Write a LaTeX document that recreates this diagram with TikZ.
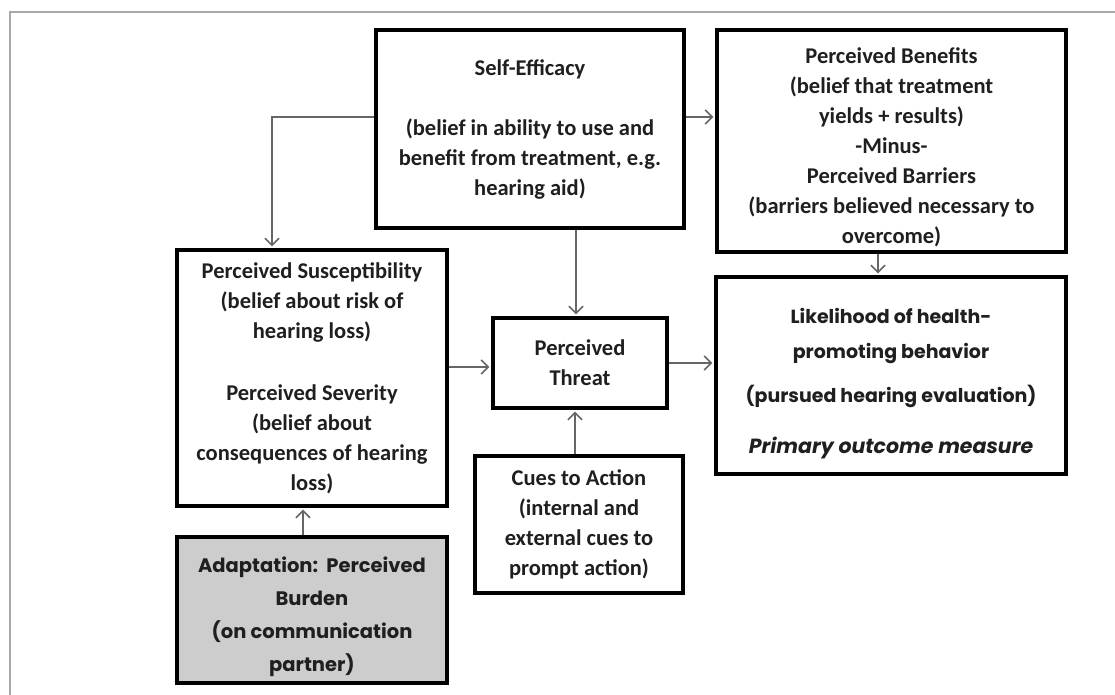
\documentclass[tikz,border=0pt]{standalone}
\usepackage{fontspec}
\setmainfont{Carlito}
\newfontfamily\geofont{Poppins}
\usetikzlibrary{arrows.meta}
\definecolor{ink}{HTML}{1F1F1F}
\definecolor{linkgray}{HTML}{666666}
\definecolor{framegray}{HTML}{A8A8A8}
\definecolor{burden}{HTML}{CDCDCD}
\tikzset{
  box/.style={draw=black, line width=3.8pt, fill=white, inner sep=0pt,
    align=center, text=ink, font=\bfseries\fontsize{22.5}{30}\selectfont},
  geobox/.style={box, font=\geofont\bfseries\fontsize{19}{35}\selectfont},
  link/.style={draw=linkgray, line width=2pt,
    -{Straight Barb[length=7pt,width=14pt,line width=1.6pt]}, shorten >=1.8pt},
  frame/.style={draw=framegray, line width=1.6pt}
}
\begin{document}
\begin{tikzpicture}[x=1pt,y=-1pt]
\useasboundingbox (0,0) rectangle (1115,695);
\draw[frame] (10,695) -- (10,12) -- (1115,12);

% model constructs
\node[box, minimum width=308, minimum height=198] (se) at (530,129)
  {Self-Efficacy\\[30pt](belief in ability to use and\\benefit from treatment, e.g.\\hearing aid)};
\node[box, minimum width=349, minimum height=222] (ben) at (891.5,141)
  {\rule{0pt}{28pt}Perceived Benefits\\(belief that treatment\\yields + results)\\-Minus-\\Perceived Barriers\\(barriers believed necessary to\\overcome)};
\node[box, minimum width=270, minimum height=256] (sus) at (312,378)
  {Perceived Susceptibility\\(belief about risk of\\hearing loss)\\[32pt]Perceived Severity\\(belief about\\consequences of hearing\\loss)};
\node[box, minimum width=174, minimum height=90] (thr) at (580,363)
  {Perceived\\Threat};
\node[geobox, minimum width=350, minimum height=197] (lik) at (891,375.5)
  {\rule{0pt}{32pt}Likelihood of health-\\promoting behavior\\[9pt](pursued hearing evaluation)\\[16pt]{\itshape\fontsize{20.5}{35}\selectfont Primary outcome measure}};
\node[box, minimum width=208, minimum height=137] (cue) at (579,524.5)
  {Cues to Action\\(internal and\\external cues to\\prompt action)};
\node[geobox, fill=burden, minimum width=270, minimum height=146,
  font=\geofont\bfseries\fontsize{19.5}{33}\selectfont] (ada) at (312,610)
  {\rule{0pt}{30pt}Adaptation:\ \ Perceived\\Burden\\(on communication\\partner)};

% influences between constructs
\draw[link] (se.west |- 0,117) -| (272,0 |- sus.north);
\draw[link] (se.east |- 0,117) -- (ben.west |- 0,117);
\draw[link] (576,0 |- se.south) -- (576,0 |- thr.north);
\draw[link] (878,0 |- ben.south) -- (878,0 |- lik.north);
\draw[link] (sus.east |- 0,367) -- (thr.west |- 0,367);
\draw[link] (thr.east) -- (lik.west |- thr.east);
\draw[link] (575,0 |- cue.north) -- (575,0 |- thr.south);
\draw[link] (303,0 |- ada.north) -- (303,0 |- sus.south);
\end{tikzpicture}
\end{document}
